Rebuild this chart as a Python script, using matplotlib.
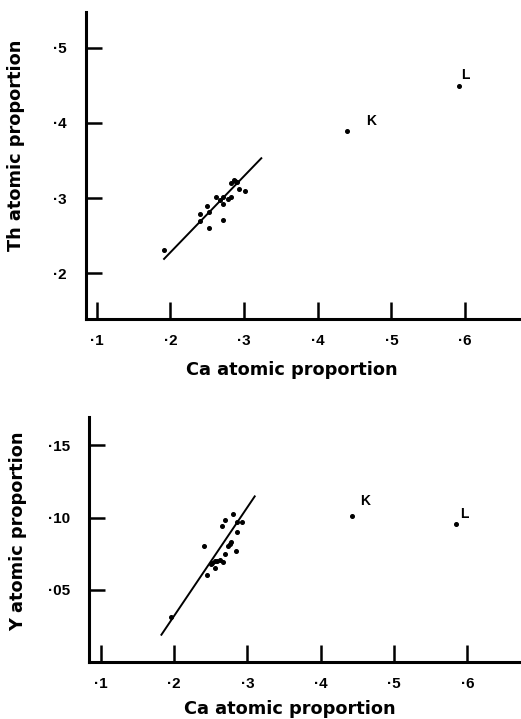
import matplotlib
matplotlib.use("Agg")
import matplotlib.pyplot as plt

plt.rcParams['font.family'] = ['Liberation Sans', 'DejaVu Sans']

# Th vs Ca (upper panel)
ca_th = [0.192, 0.240, 0.240, 0.250, 0.252, 0.253, 0.262, 0.267, 0.272, 0.272,
         0.271, 0.278, 0.283, 0.283, 0.286, 0.288, 0.291, 0.293, 0.302]
th = [0.231, 0.279, 0.269, 0.290, 0.282, 0.260, 0.302, 0.298, 0.302, 0.292,
      0.271, 0.299, 0.302, 0.320, 0.324, 0.323, 0.322, 0.312, 0.310]
th_fit_x = [0.1915, 0.3235]
th_fit_y = [0.219, 0.353]
th_named = {'K': (0.440, 0.389), 'L': (0.592, 0.449)}

# Y vs Ca (lower panel)
ca_y = [0.241, 0.266, 0.269, 0.281, 0.286, 0.292, 0.286, 0.276, 0.278, 0.274,
        0.285, 0.269, 0.267, 0.262, 0.259, 0.256, 0.252, 0.251, 0.256, 0.245, 0.196]
yy = [0.0804, 0.0939, 0.0986, 0.1026, 0.0967, 0.0970, 0.0902, 0.0818, 0.0827, 0.0802,
      0.0771, 0.0748, 0.0692, 0.0708, 0.0697, 0.0701, 0.0683, 0.0676, 0.0652, 0.0601, 0.0308]
y_fit_x = [0.1828, 0.310]
y_fit_y = [0.0187, 0.1147]
y_named = {'K': (0.442, 0.1012), 'L': (0.584, 0.0958)}

x_ticks = [0.1, 0.2, 0.3, 0.4, 0.5, 0.6]
x_labels = ['·1', '·2', '·3', '·4', '·5', '·6']
th_ticks = [0.2, 0.3, 0.4, 0.5]
th_labels = ['·2', '·3', '·4', '·5']
y_ticks = [0.05, 0.10, 0.15]
y_labels = ['·05', '·10', '·15']


def style(ax, xt, xl, yt, yl, xlabel, ylabel, xpos, ypos):
    for side in ('top', 'right'):
        ax.spines[side].set_visible(False)
    for side in ('left', 'bottom'):
        ax.spines[side].set_linewidth(2.2)
    ax.set_xticks(xt)
    ax.set_xticklabels(xl, fontsize=11, fontweight='bold')
    ax.set_yticks(yt)
    ax.set_yticklabels(yl, fontsize=11, fontweight='bold')
    ax.tick_params(axis='x', direction='in', length=12.5, width=1.8, pad=11)
    ax.tick_params(axis='y', direction='in', length=11.5, width=1.8, pad=14)
    ax.set_xlabel(xlabel, fontsize=12.8, fontweight='bold', family='DejaVu Sans')
    ax.set_ylabel(ylabel, fontsize=12.8, fontweight='bold', family='DejaVu Sans')
    ax.xaxis.set_label_coords(*xpos)
    ax.yaxis.set_label_coords(*ypos)


fig = plt.figure(figsize=(5.21, 7.19), dpi=100)

ax1 = fig.add_axes([0.165, 0.5563, 0.835, 0.4274])
ax1.plot(ca_th, th, 'o', color='black', markersize=2.6)
ax1.plot(th_fit_x, th_fit_y, color='black', linewidth=1.4)
for name, (px, py) in th_named.items():
    ax1.plot(px, py, 'o', color='black', markersize=2.6)
ax1.text(0.472, 0.403, 'K', fontsize=10, fontweight='bold', ha='center', va='center')
ax1.text(0.600, 0.464, 'L', fontsize=10, fontweight='bold', ha='center', va='center')
ax1.set_xlim(0.0855, 0.676)
ax1.set_ylim(0.139, 0.548)
style(ax1, x_ticks, x_labels, th_ticks, th_labels,
      'Ca atomic proportion', 'Th atomic proportion',
      (0.4727, -0.136), (-0.140, 0.565))

ax2 = fig.add_axes([0.1714, 0.0797, 0.8286, 0.3408])
ax2.plot(ca_y, yy, 'o', color='black', markersize=2.6)
ax2.plot(y_fit_x, y_fit_y, color='black', linewidth=1.4)
for name, (px, py) in y_named.items():
    ax2.plot(px, py, 'o', color='black', markersize=2.6)
ax2.text(0.460, 0.1115, 'K', fontsize=10, fontweight='bold', ha='center', va='center')
ax2.text(0.596, 0.1025, 'L', fontsize=10, fontweight='bold', ha='center', va='center')
ax2.set_xlim(0.0845, 0.673)
ax2.set_ylim(0.0, 0.170)
style(ax2, x_ticks, x_labels, y_ticks, y_labels,
      'Ca atomic proportion', 'Y atomic proportion',
      (0.465, -0.155), (-0.144, 0.531))

fig.savefig('out.png', dpi=100)
